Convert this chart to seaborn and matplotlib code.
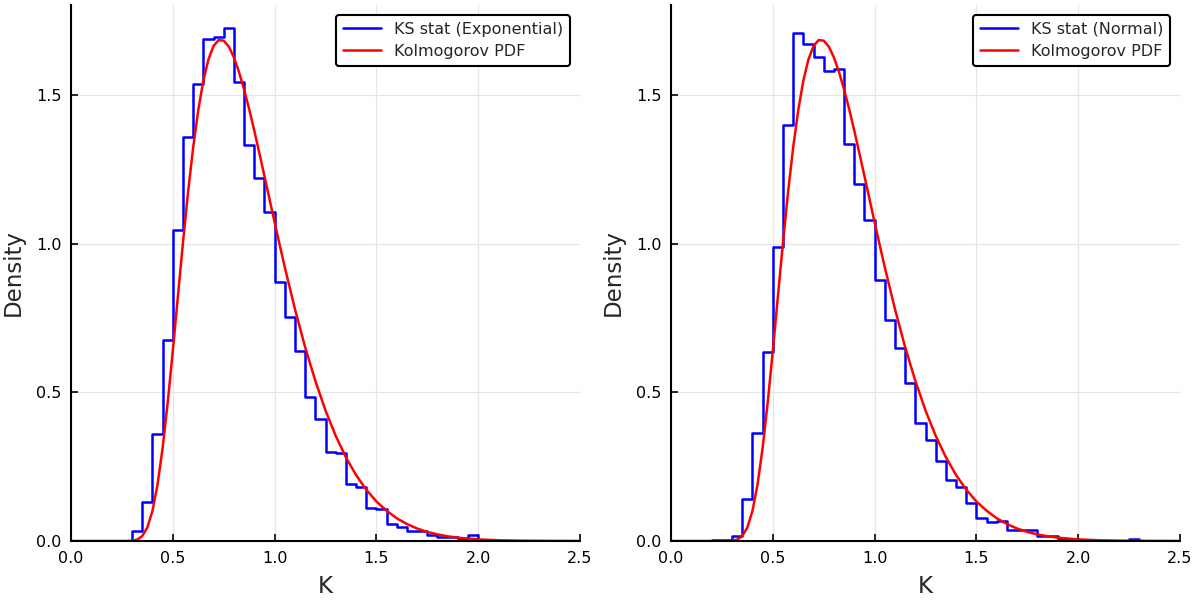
import pandas as pd
import seaborn as sns
import matplotlib.pyplot as plt

bin_width = 0.05

# KS statistic histogram densities, one value per 0.05 bin
exp_start = 0.30
exp_density = [0.035, 0.132, 0.359, 0.676, 1.046, 1.358, 1.537, 1.689, 1.694, 1.727,
               1.543, 1.332, 1.222, 1.106, 0.871, 0.755, 0.639, 0.484, 0.411, 0.299,
               0.297, 0.193, 0.183, 0.110, 0.107, 0.056, 0.047, 0.035, 0.035, 0.019,
               0.012, 0.012, 0.007, 0.019]

norm_start = 0.20
norm_density = [0.005, 0.005, 0.017, 0.141, 0.362, 0.637, 0.989, 1.400, 1.709, 1.673,
                1.627, 1.582, 1.588, 1.335, 1.200, 1.079, 0.878, 0.742, 0.648, 0.532,
                0.398, 0.339, 0.270, 0.204, 0.183, 0.128, 0.078, 0.063, 0.067, 0.038,
                0.037, 0.036, 0.018, 0.016, 0.008, 0.007, 0.003, 0.001, 0.001, 0.0,
                0.001, 0.007]

# Kolmogorov PDF curve points
k_x = [0.0, 0.1, 0.2, 0.25, 0.275, 0.30, 0.325, 0.35, 0.375, 0.40, 0.425, 0.45, 0.475,
       0.50, 0.525, 0.55, 0.575, 0.60, 0.625, 0.65, 0.675, 0.70, 0.725, 0.75, 0.775,
       0.80, 0.825, 0.85, 0.875, 0.90, 0.925, 0.95, 0.975, 1.00, 1.025, 1.05, 1.10,
       1.15, 1.20, 1.25, 1.30, 1.35, 1.40, 1.45, 1.50, 1.55, 1.60, 1.65, 1.70, 1.75,
       1.80, 1.85, 1.90, 2.00, 2.10, 2.20, 2.30, 2.40, 2.50]
k_pdf = [0.0, 0.0, 0.0, 0.0, 0.0001, 0.0008, 0.0045, 0.0166, 0.0457, 0.101, 0.190, 0.313,
         0.466, 0.639, 0.823, 1.004, 1.174, 1.324, 1.449, 1.549, 1.620, 1.665, 1.685,
         1.683, 1.663, 1.627, 1.578, 1.519, 1.453, 1.381, 1.305, 1.228, 1.150, 1.072,
         0.996, 0.921, 0.780, 0.652, 0.539, 0.439, 0.354, 0.282, 0.222, 0.173, 0.133,
         0.102, 0.0765, 0.057, 0.042, 0.0306, 0.0221, 0.0158, 0.0111, 0.0054, 0.0025,
         0.0011, 0.0005, 0.0002, 0.0001]

panels = [("KS stat (Exponential)", exp_start, exp_density),
          ("KS stat (Normal)", norm_start, norm_density)]

sns.set_style("white")
plt.rcParams['font.family'] = ['DejaVu Sans']

fig = plt.figure(figsize=(12, 6), dpi=100)
lefts = [71 / 1200, 671 / 1200]

for left, (label, start, dens) in zip(lefts, panels):
    ax = fig.add_axes([left, 59 / 600, 509 / 1200, 536 / 600])
    # pad with an empty bin on each side so the outline closes down to zero
    padded = [0.0] + list(dens) + [0.0]
    first = start - bin_width
    edges = [round(first + bin_width * i, 4) for i in range(len(padded) + 1)]
    centers = [e + bin_width / 2 for e in edges[:-1]]
    df = pd.DataFrame({"K": centers, "w": padded})
    sns.histplot(data=df, x="K", weights="w", bins=edges, element="step",
                 fill=False, color="#0000ff", linewidth=1.8, label=label, ax=ax)
    sns.lineplot(x=k_x, y=k_pdf, color="#ff0000", linewidth=1.8,
                 label="Kolmogorov PDF", ax=ax)

    ax.set_xlim(0, 2.5)
    ax.set_ylim(0, 1.803)
    ax.set_xticks([0.0, 0.5, 1.0, 1.5, 2.0, 2.5])
    ax.set_yticks([0.0, 0.5, 1.0, 1.5])
    ax.set_xticklabels(["0.0", "0.5", "1.0", "1.5", "2.0", "2.5"])
    ax.set_yticklabels(["0.0", "0.5", "1.0", "1.5"])
    ax.grid(True, color="#e5e5e5", linewidth=0.9)
    ax.set_axisbelow(True)
    for s in ["top", "right"]:
        ax.spines[s].set_visible(False)
    for s in ["left", "bottom"]:
        ax.spines[s].set_color("black")
        ax.spines[s].set_linewidth(1.5)
    ax.tick_params(direction="in", length=5, width=1.2, colors="black",
                   labelsize=11.5, pad=7, left=True, bottom=True)
    ax.set_xlabel("K", fontsize=16.5, labelpad=7)
    ax.set_ylabel("Density", fontsize=16.5, labelpad=8)
    leg = ax.legend(loc="upper right", fontsize=11.5, frameon=True, fancybox=True,
                    framealpha=1, borderaxespad=0.6, handlelength=2.4,
                    borderpad=0.45, labelspacing=0.45)
    leg.get_frame().set_edgecolor("black")
    leg.get_frame().set_linewidth(1.5)

fig.savefig("out.png", dpi=100)
